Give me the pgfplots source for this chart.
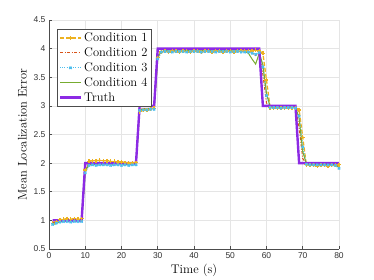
\documentclass[border=0pt]{standalone}
\usepackage{fontspec}
\usepackage{pgfplots}
\usepackage{pgfplotstable}
\pgfplotsset{compat=1.18}
\newfontfamily\ticksfont{Liberation Sans}
\definecolor{c1}{rgb}{0.929,0.694,0.125}
\definecolor{c2}{rgb}{0.850,0.325,0.098}
\definecolor{c3}{rgb}{0.301,0.745,0.933}
\definecolor{c4}{rgb}{0.466,0.674,0.188}
\definecolor{ctruth}{RGB}{140,42,228}
\newcommand\labfont{\fontsize{12.5}{15}\selectfont}
\pgfplotstableread{
t c1 c2 c3 c4
1 0.95 0.96 0.93 0.92
2 0.98 0.97 0.95 0.95
3 1.01 0.99 0.97 0.97
4 1.02 0.99 0.98 0.99
5 1.03 1.00 0.98 0.99
6 1.02 0.99 0.97 1.00
7 1.03 1.00 0.98 0.99
8 1.02 0.99 0.98 1.00
9 1.03 1.00 0.98 0.99
10 1.88 1.90 1.83 1.86
11 2.03 1.98 1.96 1.97
12 2.04 1.99 1.97 1.98
13 2.04 1.99 1.96 1.98
14 2.05 1.99 1.97 1.99
15 2.04 2.00 1.97 1.98
16 2.04 1.99 1.97 1.99
17 2.03 1.99 1.96 1.98
18 2.03 2.00 1.97 1.99
19 2.02 1.99 1.97 1.99
20 2.02 1.99 1.96 1.99
21 2.01 1.99 1.97 1.98
22 2.00 1.98 1.96 1.98
23 2.00 1.99 1.97 1.99
24 2.01 1.99 1.97 1.99
25 2.90 2.94 2.92 2.93
26 2.92 2.95 2.93 2.94
27 2.93 2.95 2.93 2.95
28 2.94 2.96 2.94 2.95
29 2.96 2.97 2.94 2.96
30 3.84 3.88 3.82 3.86
31 3.94 3.96 3.94 3.95
32 3.95 3.97 3.95 3.96
33 3.94 3.97 3.95 3.96
34 3.96 3.97 3.94 3.96
35 3.95 3.97 3.95 3.96
36 3.94 3.96 3.95 3.96
37 3.96 3.97 3.95 3.96
38 3.95 3.97 3.94 3.97
39 3.94 3.97 3.95 3.96
40 3.96 3.96 3.95 3.96
41 3.95 3.97 3.95 3.96
42 3.94 3.97 3.94 3.96
43 3.96 3.97 3.95 3.97
44 3.95 3.97 3.95 3.96
45 3.94 3.96 3.95 3.96
46 3.96 3.97 3.94 3.96
47 3.95 3.97 3.95 3.96
48 3.94 3.97 3.95 3.97
49 3.96 3.96 3.95 3.96
50 3.95 3.97 3.94 3.96
51 3.94 3.97 3.95 3.96
52 3.96 3.97 3.95 3.96
53 3.95 3.96 3.94 3.95
54 3.96 3.96 3.94 3.95
55 3.95 3.96 3.94 3.92
56 3.96 3.93 3.92 3.82
57 3.97 3.88 3.90 3.73
58 3.96 3.95 3.93 3.92
59 3.92 3.55 3.68 3.72
60 3.45 3.05 3.18 3.22
61 2.97 2.98 2.97 2.99
62 2.96 2.98 2.97 2.98
63 2.97 2.98 2.97 2.98
64 2.96 2.98 2.96 2.98
65 2.97 2.98 2.97 2.98
66 2.96 2.98 2.97 2.98
67 2.97 2.98 2.97 2.98
68 2.97 2.97 2.96 2.98
69 2.93 2.62 2.82 2.78
70 2.45 2.08 2.28 2.20
71 1.97 1.99 1.98 1.99
72 1.96 1.98 1.97 1.98
73 1.96 1.98 1.97 1.98
74 1.95 1.98 1.97 1.98
75 1.96 1.98 1.97 1.98
76 1.96 1.98 1.97 1.98
77 1.95 1.98 1.97 1.98
78 1.96 1.98 1.97 1.98
79 1.96 1.97 1.96 1.97
80 1.97 1.96 1.91 1.93
}\conds
\pgfplotstableread{
t y
1 1
9 1
10 2
24 2
25 3
29 3
30 4
58 4
59 3
68 3
69 2
80 2
}\truth
\begin{document}
\begin{tikzpicture}
\useasboundingbox (-49pt,-31pt) rectangle (325pt,249pt);
\begin{axis}[
  at={(0,0)}, anchor=south west,
  scale only axis, width=290pt, height=229pt,
  xmin=0, xmax=80, ymin=0.5, ymax=4.5,
  xtick={0,10,...,80}, ytick={0.5,1,1.5,2,2.5,3,3.5,4,4.5},
  axis x line=bottom, axis y line=left,
  axis line style={-, black!70, line width=0.6pt},
  tick style={black!70, line width=0.5pt},
  tick align=inside, major tick length=3pt,
  grid=major, major grid style={black!10, line width=0.5pt},
  /pgf/number format/assume math mode=true,
  tick label style={font=\ticksfont\fontsize{8.5}{10}\selectfont, text=black!80},
  xlabel={\labfont Time (s)}, ylabel={\labfont Mean Localization Error},
  xlabel style={yshift=1pt},
  ylabel style={yshift=0pt},
  legend style={at={(0.028,0.96)}, anchor=north west, draw=black!70, fill=white,
    font=\labfont, inner sep=1.5pt, row sep=0.6pt},
  legend cell align=left,
  legend image code/.code={
    \draw[mark repeat=2,mark phase=2,#1] plot coordinates {(0pt,0pt) (10.5pt,0pt) (21pt,0pt)};
  },
]
\addplot[c1, line width=1.3pt, dash pattern=on 4pt off 2pt, mark=+, mark size=2pt, mark options={solid}] table[x=t,y=c1]{\conds};
\addlegendentry{\labfont Condition 1}
\addplot[c2, line width=1pt, dash pattern=on 3pt off 1.5pt on 1pt off 1.5pt] table[x=t,y=c2]{\conds};
\addlegendentry{\labfont Condition 2}
\addplot[c3, line width=1.2pt, dash pattern=on 1pt off 1.2pt, mark=x, mark size=1.6pt, mark options={solid}] table[x=t,y=c3]{\conds};
\addlegendentry{\labfont Condition 3}
\addplot[c4, line width=1pt] table[x=t,y=c4]{\conds};
\addlegendentry{\labfont Condition 4}
\addplot[ctruth, line width=2.4pt] table[x=t,y=y]{\truth};
\addlegendentry{\labfont Truth}
\end{axis}
\end{tikzpicture}
\end{document}
